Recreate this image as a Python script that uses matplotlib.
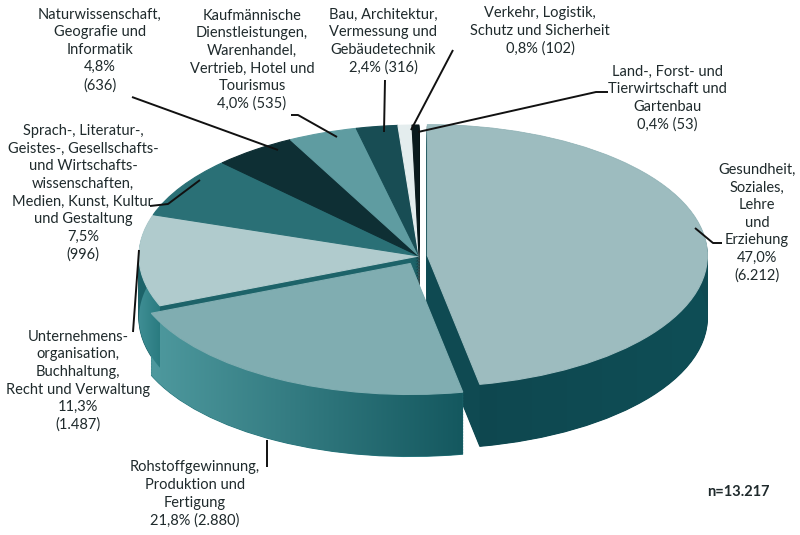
import matplotlib
matplotlib.use("Agg")
import matplotlib.pyplot as plt
from matplotlib.colors import LinearSegmentedColormap
from matplotlib.patches import Polygon
import numpy as np

# categories and values (share in %, count)
labels = [
    "Gesundheit,\nSoziales,\nLehre\nund\nErziehung",
    "Rohstoffgewinnung,\nProduktion und\nFertigung",
    "Unternehmens-\norganisation,\nBuchhaltung,\nRecht und Verwaltung",
    "Sprach-, Literatur-,\nGeistes-, Gesellschafts-\nund Wirtschafts-\nwissenschaften,\nMedien, Kunst, Kultur\nund Gestaltung",
    "Naturwissenschaft,\nGeografie und\nInformatik",
    "Kaufmännische\nDienstleistungen,\nWarenhandel,\nVertrieb, Hotel und\nTourismus",
    "Bau, Architektur,\nVermessung und\nGebäudetechnik",
    "Verkehr, Logistik,\nSchutz und Sicherheit",
    "Land-, Forst- und\nTierwirtschaft und\nGartenbau",
]
shares = [47.0, 21.8, 11.3, 7.5, 4.8, 4.0, 2.4, 0.8, 0.4]
counts = ["6.212", "2.880", "1.487", "996", "636", "535", "316", "102", "53"]
# how the value line is joined to the label: new line or same line
value_sep = ["\n", " ", "\n", "\n", "\n", " ", " ", " ", " "]
total = "n=13.217"

top_colors = ["#9dbcbf", "#80adb1", "#b0cbcd", "#2a7076", "#0e2f34",
              "#5f9ca1", "#184d54", "#e4edee", "#0a1a1d"]
side_colors = ["#0f4a52", "#23747a", "#1d6369", "#1d5a60", "#0a2428",
               "#3d7a7f", "#0f3a40", "#b5c9ca", "#050f10"]
# shaded outer walls: (left colour, right colour)
wall_grad = {0: ("#0e464e", "#0f4e56"), 1: ("#4e999e", "#14585f"),
             2: ("#3f8e94", "#2a7b80")}
explode = [0.03, 0.065, 0, 0, 0, 0, 0, 0, 0]

W, H = 800, 535
cx, cy, rx, ry = 419, 256, 280, 131
depth = 62 / ry

fig = plt.figure(figsize=(W / 100, H / 100), dpi=100)
ax = fig.add_axes([0, 0, 1, 1])

# extruded pie: stack of pies, sides first, top face last
for d in np.linspace(depth, 0, 42):
    cols = top_colors if d == 0 else side_colors
    ax.pie(shares, startangle=90, counterclock=False, colors=cols,
           explode=explode, center=(0, -d), radius=1,
           wedgeprops=dict(linewidth=0.8), frame=True)
    for w, c in zip(ax.patches[-len(shares):], cols):
        w.set_edgecolor(c)
        if d == 0:
            w.set_zorder(3)

# horizontal shading on the front walls
cum = np.concatenate([[0], np.cumsum(shares)])
for i, (cl, cr) in wall_grad.items():
    t1 = np.radians(90 - 3.6 * cum[i + 1])
    t2 = np.radians(90 - 3.6 * cum[i])
    mid = (t1 + t2) / 2
    ox, oy = explode[i] * np.cos(mid), explode[i] * np.sin(mid)
    t = np.linspace(t1, t2, 200)
    top = np.column_stack([ox + np.cos(t), oy + np.sin(t)])
    bot = top - [0, depth]
    clip = Polygon(np.vstack([top, bot[::-1]]), closed=True,
                   transform=ax.transData)
    x0, x1 = top[:, 0].min(), top[:, 0].max()
    cmap = LinearSegmentedColormap.from_list(f"w{i}", [cl, cr])
    im = ax.imshow(np.linspace(0, 1, 256)[None, :], cmap=cmap,
                   extent=(x0, x1, oy - 1 - depth, oy + 1),
                   aspect="auto", zorder=2, interpolation="bilinear")
    im.set_clip_path(clip)

ax.set_xlim(-cx / rx, (W - cx) / rx)
ax.set_ylim(-(H - cy) / ry, cy / ry)
ax.set_aspect("auto")
ax.axis("off")


def px(x, y):
    return (x - cx) / rx, (cy - y) / ry


# label block centres and leader lines (pixel layout)
label_pos = [(757, 223), (195, 494), (78, 381), (83, 193), (100, 50),
             (252, 60), (383, 41), (540, 31), (667, 98)]
leaders = [
    [(722, 243), (713, 243), (695, 228)],
    [(267, 467), (267, 440)],
    [(133, 332), (139, 250)],
    [(150, 206), (168, 204), (200, 180)],
    [(132, 97), (278, 150)],
    [(291, 115), (298, 115), (337, 137)],
    [(385, 80), (384, 132)],
    [(453, 50), (411, 130)],
    [(608, 92), (596, 92), (418, 132)],
]

font = ["Lato", "DejaVu Sans"]
for lab, s, c, sep, (x, y), pts in zip(labels, shares, counts, value_sep,
                                        label_pos, leaders):
    txt = lab + "\n" + f"{s:.1f}".replace(".", ",") + "%" + sep + f"({c})"
    ax.text(*px(x, y), txt, ha="center", va="center", fontsize=10.5,
            linespacing=1.32, color="#1f2a2c", family=font, zorder=5)
    xs, ys = zip(*[px(a, b) for a, b in pts])
    ax.plot(xs, ys, color="#111111", lw=1.4, solid_capstyle="butt",
            zorder=5)

ax.text(*px(738, 492), total, ha="center", va="center", fontsize=10.5,
        fontweight="bold", color="#1f2a2c", family=font)

fig.savefig("out.png", dpi=100, facecolor="white")
